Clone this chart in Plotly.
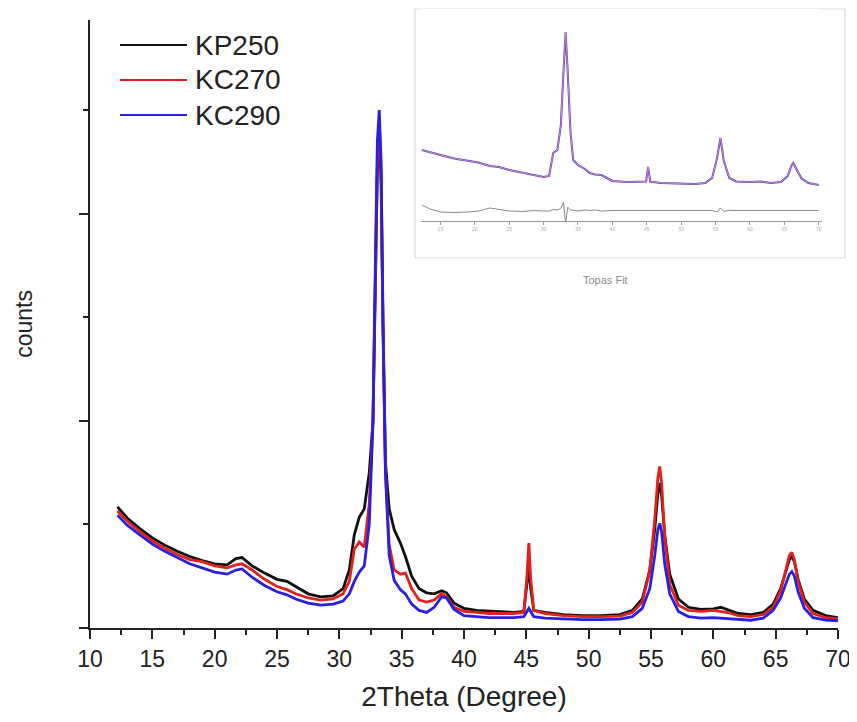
import plotly.graph_objects as go

# ---------------- main pattern data (2Theta in degrees, counts) ----------------
two_theta = [12.2, 13, 14, 15, 16, 17, 18, 19, 20, 21, 21.7, 22.2, 23, 24, 25, 25.8, 26.5, 27.5,
             28.5, 29.5, 30.3, 30.8, 31.2, 31.6, 32.0, 32.4, 32.7, 32.9, 33.05, 33.2, 33.35, 33.5,
             33.7, 34.0, 34.4, 34.9, 35.3, 35.8, 36.4, 37.0, 37.6, 38.2, 38.6, 39.2, 40, 41, 42,
             43, 44, 44.8, 45.05, 45.2, 45.35, 45.6, 46.5, 48, 49.5, 51, 52.5, 53.5, 54.3, 54.9,
             55.3, 55.55, 55.7, 55.85, 56.1, 56.5, 57.2, 58, 59, 60, 60.6, 61.3, 62, 63, 64, 64.8,
             65.4, 65.8, 66.1, 66.3, 66.5, 66.8, 67.3, 68, 69, 70]

kp250 = [1170, 1060, 960, 870, 800, 740, 690, 650, 620, 610, 670, 680, 600, 530, 470, 450, 400, 330,
         300, 310, 380, 560, 900, 1070, 1150, 1500, 2000, 3300, 4400, 4800, 4300, 2900,
         1600, 1150, 950, 820, 690, 500, 380, 340, 330, 360, 340, 240, 190, 170, 165,
         160, 150, 160, 400, 590, 380, 170, 150, 130, 120, 120, 130, 170, 280, 560,
         950, 1300, 1400, 1280, 900, 520, 280, 200, 180, 185, 200, 170, 140, 130, 150, 230,
         380, 540, 660, 690, 640, 470, 280, 170, 120, 100]

kc270 = [1130, 1030, 930, 840, 770, 710, 660, 640, 600, 580, 610, 620, 560, 470, 400, 370, 330, 290,
         270, 280, 330, 450, 760, 830, 780, 1200, 2000, 3400, 4500, 4900, 4400, 2950,
         1500, 800, 560, 520, 530, 380, 270, 250, 270, 330, 300, 200, 160, 150, 140,
         140, 140, 150, 500, 820, 480, 170, 140, 120, 110, 110, 115, 150, 250, 550,
         1050, 1450, 1560, 1400, 880, 420, 220, 170, 160, 170, 160, 145, 120, 110, 130, 200,
         360, 560, 700, 730, 660, 450, 250, 140, 100, 90]

kc290 = [1090, 990, 900, 810, 740, 680, 620, 580, 540, 520, 560, 570, 490, 410, 350, 320, 280, 240,
         220, 230, 260, 330, 450, 540, 600, 1000, 2000, 3600, 4700, 5000, 4500, 3000,
         1500, 700, 460, 370, 330, 230, 170, 150, 200, 300, 290, 180, 120, 110, 100,
         100, 100, 110, 160, 190, 160, 110, 95, 85, 80, 80, 85, 110, 190, 380,
         700, 950, 1010, 930, 620, 330, 160, 110, 95, 100, 95, 90, 80, 75, 95, 170,
         290, 430, 520, 545, 500, 350, 190, 100, 75, 70]

series_names = ["KP250", "KC270", "KC290"]
series_colors = ["#111111", "#e3211c", "#2a1fe0"]

x_ticks = [10, 15, 20, 25, 30, 35, 40, 45, 50, 55, 60, 65, 70]

# ---------------- inset (Topas fit) data ----------------
fit_theta = [12.3, 13.5, 15, 17, 19, 20.5, 22.2, 23.5, 25, 27, 28.5, 30, 30.8, 31.4, 32.0, 32.5,
             32.9, 33.2, 33.5, 33.9, 34.3, 35, 36, 36.7, 37.5, 38.4, 39.2, 40, 42, 44, 44.9, 45.2,
             45.5, 47, 50, 52, 53.5, 54.5, 55.2, 55.7, 56.2, 57, 58, 60, 61.5, 63, 64.5, 65.5,
             66.0, 66.3, 66.7, 67.5, 68.5, 70]
fit_obs = [1420, 1370, 1320, 1250, 1200, 1170, 1100, 1080, 1020, 960, 920, 880, 900, 1360, 1420, 1900,
           3000, 3780, 3000, 1800, 1220, 1120, 1040, 960, 930, 920, 860, 800, 780, 780, 790, 1080,
           790, 760, 740, 740, 760, 860, 1250, 1660, 1200, 860, 790, 780, 790, 760, 780, 900,
           1100, 1160, 1050, 850, 760, 720]
fit_diff = [320, 240, 180, 170, 180, 200, 260, 230, 200, 190, 210, 200, 200, 230, 220, 250,
            380, -60, 280, 220, 220, 200, 220, 210, 220, 200, 210, 210, 210, 210, 210, 210,
            210, 210, 210, 210, 210, 210, 180, 260, 190, 215, 210, 210, 210, 210, 210, 210,
            210, 210, 210, 210, 210, 210]
fit_ticks = [15, 20, 25, 30, 35, 40, 45, 50, 55, 60, 65, 70]

fig = go.Figure()

for name, color, ys in zip(series_names, series_colors, [kp250, kc270, kc290]):
    fig.add_trace(go.Scatter(x=two_theta, y=ys, mode="lines", name=name, showlegend=False,
                             line=dict(color=color, width=2.8), xaxis="x", yaxis="y"))

# inset traces
fig.add_trace(go.Scatter(x=fit_theta, y=fit_obs, mode="lines", showlegend=False,
                         line=dict(color="#4a3ed8", width=2), xaxis="x2", yaxis="y2"))
fig.add_trace(go.Scatter(x=fit_theta, y=fit_obs, mode="lines", showlegend=False,
                         line=dict(color="#f29a9a", width=0.8), xaxis="x2", yaxis="y2"))
fig.add_trace(go.Scatter(x=fit_theta, y=fit_diff, mode="lines", showlegend=False,
                         line=dict(color="#8a8a8a", width=1), xaxis="x2", yaxis="y2"))

# page offset of the plot div (default body margin)
OFF = 8
W, H = 857 - OFF, 722 - OFF
L, R, T, B = 90 - OFF, 0, 0, 94
pw, ph = W - L - R, H - T - B


def px_x(p):
    """page pixel x -> paper coordinate"""
    return (p - OFF - L) / pw


def px_y(p):
    """page pixel y -> paper coordinate"""
    return (H - B - (p - OFF)) / ph


font_main = "Liberation Sans, Arial, sans-serif"

shapes = [dict(type="rect", xref="paper", yref="paper",
               x0=px_x(415), x1=px_x(845), y0=px_y(258), y1=px_y(9),
               line=dict(color="#dcdcdc", width=1.2), fillcolor="rgba(0,0,0,0)", layer="below")]
annotations = [dict(text="Topas Fit", xref="paper", yref="paper",
                    x=px_x(630), y=px_y(280), showarrow=False,
                    font=dict(size=11, color="#8c8c8c"))]

# manual legend (long sample lines as in the reference)
legend_rows = [45, 80, 115]
for name, color, row in zip(series_names, series_colors, legend_rows):
    shapes.append(dict(type="line", xref="paper", yref="paper",
                       x0=px_x(120), x1=px_x(187), y0=px_y(row), y1=px_y(row),
                       line=dict(color=color, width=2)))
    annotations.append(dict(text=name, xref="paper", yref="paper", x=px_x(193), y=px_y(row),
                            xanchor="left", yanchor="middle", showarrow=False,
                            font=dict(size=28, color="#222", family=font_main)))

fig.update_layout(
    width=W, height=H,
    margin=dict(l=L, r=R, t=T, b=B, autoexpand=False),
    paper_bgcolor="white", plot_bgcolor="white",
    font=dict(family=font_main, color="#222"),
    showlegend=False,
    xaxis=dict(domain=[0, px_x(838)], range=[10, 70], tickvals=x_ticks,
               showline=True, linecolor="#222", linewidth=2, mirror=False,
               ticks="outside", ticklen=9, tickwidth=1.5, tickcolor="#222",
               minor=dict(dtick=2.5, ticks="outside", ticklen=5, tickwidth=1.5, tickcolor="#222"),
               tickfont=dict(size=23, color="#222"), showgrid=False, zeroline=False,
               title=dict(text="2Theta (Degree)", font=dict(size=28, color="#222"), standoff=16),
               automargin=False, anchor="y"),
    yaxis=dict(domain=[0, px_y(20)], range=[0, 5870], tickvals=[0, 2000, 4000],
               showticklabels=False, showline=True, linecolor="#222", linewidth=2,
               ticks="outside", ticklen=9, tickwidth=1.5, tickcolor="#222",
               minor=dict(tickvals=[1000, 3000, 5000], ticks="outside", ticklen=5,
                          tickwidth=1.5, tickcolor="#222"),
               showgrid=False, zeroline=False,
               title=dict(text="counts", font=dict(size=23, color="#222"), standoff=40),
               automargin=False, anchor="x"),
    xaxis2=dict(domain=[px_x(421), px_x(822)], range=[12.18, 70.47], tickvals=fit_ticks,
                anchor="y2", showline=True, linecolor="#9a9a9a", linewidth=1,
                ticks="outside", ticklen=3, tickcolor="#9a9a9a",
                tickfont=dict(size=5, color="#b0b0b0"), showgrid=False, zeroline=False,
                automargin=False),
    yaxis2=dict(domain=[px_y(221), px_y(9)], range=[0, 4240], anchor="x2",
                visible=False, showgrid=False, zeroline=False, automargin=False),
    shapes=shapes,
    annotations=annotations,
)

fig.write_html("out.html")
